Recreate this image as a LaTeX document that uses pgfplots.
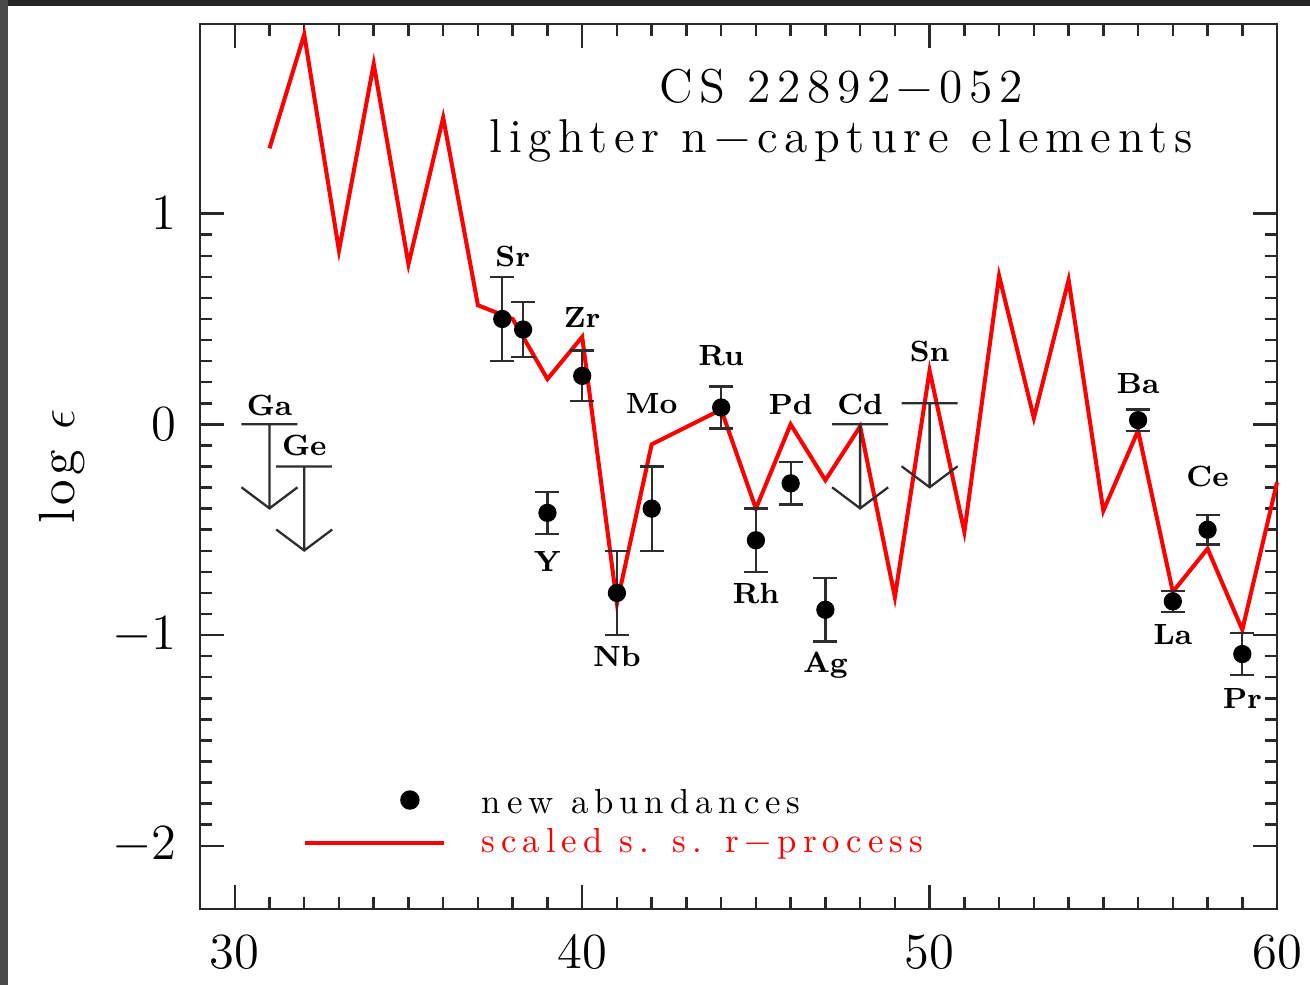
\documentclass[border=0pt]{standalone}
\usepackage{fontspec}
\usepackage{pgfplots}
\usepackage{pgfplotstable}
\pgfplotsset{compat=1.18}

\newfontfamily\titlefont{lmroman12-regular.otf}[LetterSpace=14]
\newfontfamily\legfont{lmroman10-regular.otf}[LetterSpace=17]
\newfontfamily\labfont{lmroman10-regular.otf}[LetterSpace=8]

\definecolor{axgray}{RGB}{40,40,40}
\definecolor{barcol}{RGB}{45,45,45}
\definecolor{topstrip}{RGB}{38,38,38}
\definecolor{leftstrip}{RGB}{74,74,74}

% upper limit: bar, stem and open V head
\pgfdeclareplotmark{ulim}{%
  \pgfpathmoveto{\pgfpoint{-2.8mm}{0mm}}\pgfpathlineto{\pgfpoint{2.8mm}{0mm}}%
  \pgfpathmoveto{\pgfpoint{0mm}{0mm}}\pgfpathlineto{\pgfpoint{0mm}{-8.4mm}}%
  \pgfpathmoveto{\pgfpoint{-2.8mm}{-6.3mm}}\pgfpathlineto{\pgfpoint{0mm}{-8.4mm}}%
  \pgfpathlineto{\pgfpoint{2.8mm}{-6.3mm}}%
  \pgfusepathqstroke}

% scaled solar-system r-process curve
\pgfplotstableread{
z v
31 1.31
32 1.85
33 0.825
34 1.71
35 0.76
36 1.455
37 0.565
38 0.50
39 0.215
40 0.415
41 -0.85
42 -0.095
44 0.07
45 -0.40
46 0.0
47 -0.265
48 -0.01
49 -0.82
50 0.255
51 -0.51
52 0.705
53 0.03
54 0.685
55 -0.41
56 -0.03
57 -0.795
58 -0.59
59 -0.975
60 -0.275
}\rproc

% new abundances with errors
\pgfplotstableread{
z v e
37.7 0.50 0.20
38.3 0.45 0.13
39 -0.42 0.10
40 0.23 0.12
41 -0.80 0.20
42 -0.40 0.20
44 0.08 0.10
45 -0.55 0.15
46 -0.28 0.10
47 -0.88 0.15
56 0.02 0.05
57 -0.84 0.05
58 -0.50 0.07
59 -1.09 0.10
}\abund

% upper limits
\pgfplotstableread{
z v
31 0.0
32 -0.2
48 0.0
50 0.1
}\limits

\begin{document}
\begin{tikzpicture}
\begin{axis}[
  scale only axis, width=10.77cm, height=8.85cm,
  xmin=29, xmax=60, ymin=-2.3, ymax=1.9,
  xtick={30,40,50,60}, ytick={-2,-1,0,1},
  minor x tick num=9, minor y tick num=9,
  tick align=inside,
  major tick length=2.4mm, minor tick length=1.2mm,
  axis line style={line width=0.8pt, color=axgray},
  every tick/.style={line width=0.7pt, color=axgray},
  tick label style={font=\fontsize{14}{14}\selectfont},
  xticklabel style={inner sep=0pt, yshift=-2.6mm},
  yticklabel style={inner sep=0pt, xshift=-2.3mm},
  ylabel={log $\epsilon$},
  ylabel style={at={(axis description cs:-0.128,0.5)}, anchor=center,
    font=\labfont\fontsize{14.5}{14.5}\selectfont},
  clip=false,
  legend style={draw=none, fill=none, inner sep=0pt, outer sep=0pt,
    at={(axis description cs:0.0956,0.1348)}, anchor=north west,
    row sep=2.5pt, column sep=3.6mm, nodes={inner sep=0pt},
    font=\legfont\fontsize{9.9}{11}\selectfont},
  legend cell align=left,
]
% screenshot frame
\fill[topstrip] (rel axis cs:-0.1857,1.0271) rectangle (rel axis cs:1.0306,1.0203);
\fill[leftstrip] (rel axis cs:-0.1857,1.0271) rectangle (rel axis cs:-0.1783,-0.0859);
\path (rel axis cs:1.0306,-0.0859);

\addplot[red, line width=1.15pt, forget plot] table[x=z, y=v] {\rproc};

\addplot[only marks, mark=*, mark size=2.4pt, black, forget plot,
  error bars/.cd, y dir=both, y explicit,
  error bar style={line width=0.65pt, color=barcol},
  error mark options={line width=0.65pt, color=barcol, mark size=3.4pt, rotate=90}]
  table[x=z, y=v, y error=e] {\abund};

\addplot[only marks, mark=ulim, forget plot,
  mark options={line width=0.65pt, color=barcol}]
  table[x=z, y=v] {\limits};

\addlegendimage{legend image code/.code={\path[draw=none] (0,0) -- (1.39cm,0);
  \fill[black] (1.05cm,0.044cm) circle[radius=0.9mm];}}
\addlegendentry{new abundances}
\addlegendimage{legend image code/.code={\draw[red, line width=1.1pt] (0,-0.007cm) -- (1.39cm,-0.007cm);}}
\addlegendentry{\textcolor{red}{scaled s. s. r−process}}

% title, two centred lines (base = last line)
\node[anchor=base, align=center, inner sep=0pt,
  font=\titlefont\fontsize{13.5}{14.2}\selectfont]
  at (axis cs:47.45,1.290) {CS 22892−052\\lighter n−capture elements};

% element labels
\begin{scope}[every node/.style={anchor=base, inner sep=0pt, font=\fontsize{8.3}{9}\selectfont\bfseries}]
\node at (axis cs:31,0.043) {Ga};
\node at (axis cs:32,-0.147) {Ge};
\node at (axis cs:38,0.749) {Sr};
\node at (axis cs:39,-0.70) {Y};
\node at (axis cs:40,0.458) {Zr};
\node at (axis cs:41,-1.150) {Nb};
\node at (axis cs:42,0.051) {Mo};
\node at (axis cs:44,0.28) {Ru};
\node at (axis cs:45,-0.85) {Rh};
\node at (axis cs:46,0.046) {Pd};
\node at (axis cs:47,-1.18) {Ag};
\node at (axis cs:48,0.046) {Cd};
\node at (axis cs:50,0.30) {Sn};
\node at (axis cs:56,0.145) {Ba};
\node at (axis cs:57,-1.047) {La};
\node at (axis cs:58,-0.297) {Ce};
\node at (axis cs:59,-1.347) {Pr};
\end{scope}
\end{axis}
\end{tikzpicture}
\end{document}
